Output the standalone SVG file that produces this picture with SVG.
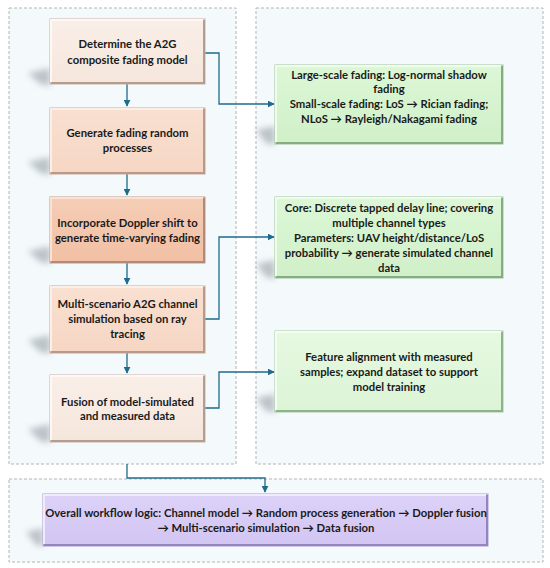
<svg xmlns="http://www.w3.org/2000/svg" width="550" height="568" viewBox="0 0 550 568">
<defs>
<style>
.panel{fill:#f4f9fc;stroke:#b4b4b4;stroke-width:1;stroke-dasharray:3,2}
.t{font-family:Lato,"Open Sans","Liberation Sans",sans-serif;font-weight:bold;font-size:11.3px;fill:#1a1a1a;text-anchor:middle}
.conn{fill:none;stroke:#1e6b8c;stroke-width:1.3}
.edge{fill:none;stroke-width:2}
.shadow{fill:#8e979e;opacity:0.55;filter:url(#blur)}
</style>
<filter id="blur" x="-50%" y="-50%" width="200%" height="200%"><feGaussianBlur stdDeviation="3"/></filter>
<marker id="arr" viewBox="0 0 10 10" refX="9" refY="5" markerWidth="7" markerHeight="7" markerUnits="userSpaceOnUse" orient="auto"><path d="M0,0 L10,5 L0,10 z" fill="#1e6b8c"/></marker>
<linearGradient id="gPeachL" x1="0" y1="0" x2="0" y2="1"><stop offset="0" stop-color="#f9efe8"/><stop offset="1" stop-color="#f5e6dc"/></linearGradient>
<linearGradient id="gPeach" x1="0" y1="0" x2="0" y2="1"><stop offset="0" stop-color="#f9e0d1"/><stop offset="1" stop-color="#f6d6c3"/></linearGradient>
<linearGradient id="gPeachD" x1="0" y1="0" x2="0" y2="1"><stop offset="0" stop-color="#f5cdb6"/><stop offset="1" stop-color="#f2c0a4"/></linearGradient>
<linearGradient id="gGreen" x1="0" y1="0" x2="0" y2="1"><stop offset="0" stop-color="#dcf7d6"/><stop offset="1" stop-color="#d0f0c9"/></linearGradient>
<linearGradient id="gGreenL" x1="0" y1="0" x2="0" y2="1"><stop offset="0" stop-color="#e6f9e1"/><stop offset="1" stop-color="#dcf4d6"/></linearGradient>
<linearGradient id="gPurple" x1="0" y1="0" x2="0" y2="1"><stop offset="0" stop-color="#ddd2f8"/><stop offset="1" stop-color="#d2c5f3"/></linearGradient>
</defs>

<g id="panels">
<rect class="panel" x="9" y="8" width="227" height="456"/>
<rect class="panel" x="256" y="8" width="287" height="456"/>
<rect class="panel" x="9" y="479" width="534" height="83"/>
</g>

<g id="shadows">
<polygon class="shadow" points="50,68 28,73 40,84 50,86"/>
<polygon class="shadow" points="50,157 28,162 40,173 50,175"/>
<polygon class="shadow" points="50,246 28,251 40,262 50,264"/>
<polygon class="shadow" points="50,335 28,340 40,352 50,354"/>
<polygon class="shadow" points="50,424 28,429 40,441 50,443"/>
<polygon class="shadow" points="275,126 256,130 266,143 275,145"/>
<polygon class="shadow" points="275,260 256,264 266,277 275,279"/>
<polygon class="shadow" points="275,394 256,398 266,411 275,413"/>
<polygon class="shadow" points="43,528 26,532 36,545 43,547"/>
</g>

<g id="connectors">
<line class="conn" x1="127" y1="84" x2="127" y2="106" marker-end="url(#arr)"/>
<line class="conn" x1="127" y1="174" x2="127" y2="195" marker-end="url(#arr)"/>
<line class="conn" x1="127" y1="263" x2="127" y2="284" marker-end="url(#arr)"/>
<line class="conn" x1="127" y1="353" x2="127" y2="373" marker-end="url(#arr)"/>
<polyline class="conn" points="205,53 219,53 219,104 274,104" marker-end="url(#arr)"/>
<polyline class="conn" points="205,319 219,319 219,237 274,237" marker-end="url(#arr)"/>
<polyline class="conn" points="205,408 219,408 219,372 274,372" marker-end="url(#arr)"/>
<polyline class="conn" points="127,464 127,478 265,478 265,492" marker-end="url(#arr)"/>
</g>

<g id="n1">
<rect x="50" y="19" width="155" height="65" fill="url(#gPeachL)" stroke="#c9b2a6"/>
<polyline class="edge" points="51,83 204,83 204,20" stroke="#b59c90"/>
<polyline class="edge" points="51,82 51,20 203,20" stroke="#fdf8f4" stroke-width="1.5"/>
<text class="t" x="127.5" y="48">Determine the A2G</text>
<text class="t" x="127.5" y="64">composite fading model</text>
</g>

<g id="n2">
<rect x="50" y="108" width="155" height="66" fill="url(#gPeach)" stroke="#c9a796"/>
<polyline class="edge" points="51,173 204,173 204,109" stroke="#b8998a"/>
<polyline class="edge" points="51,172 51,109 203,109" stroke="#fcefe7" stroke-width="1.5"/>
<text class="t" x="127.5" y="137">Generate fading random</text>
<text class="t" x="127.5" y="152">processes</text>
</g>

<g id="n3">
<rect x="50" y="197" width="155" height="66" fill="url(#gPeachD)" stroke="#c59a84"/>
<polyline class="edge" points="51,262 204,262 204,198" stroke="#b18b78"/>
<polyline class="edge" points="51,261 51,198 203,198" stroke="#f9e1d3" stroke-width="1.5"/>
<text class="t" x="127.5" y="227">Incorporate Doppler shift to</text>
<text class="t" x="127.5" y="242">generate time-varying fading</text>
</g>

<g id="n4">
<rect x="50" y="286" width="155" height="67" fill="url(#gPeach)" stroke="#c9a796"/>
<polyline class="edge" points="51,352 204,352 204,287" stroke="#b8998a"/>
<polyline class="edge" points="51,351 51,287 203,287" stroke="#fcefe7" stroke-width="1.5"/>
<text class="t" x="127.5" y="308">Multi-scenario A2G channel</text>
<text class="t" x="127.5" y="323">simulation based on ray</text>
<text class="t" x="127.5" y="338">tracing</text>
</g>

<g id="n5">
<rect x="50" y="375" width="155" height="67" fill="url(#gPeachL)" stroke="#c9b2a6"/>
<polyline class="edge" points="51,441 204,441 204,376" stroke="#b59c90"/>
<polyline class="edge" points="51,440 51,376 203,376" stroke="#fdf8f4" stroke-width="1.5"/>
<text class="t" x="127.5" y="406">Fusion of model-simulated</text>
<text class="t" x="127.5" y="420">and measured data</text>
</g>

<g id="g1">
<rect x="275" y="65" width="228" height="79" fill="url(#gGreen)" stroke="#9cc596"/>
<polyline class="edge" points="276,143 502,143 502,66" stroke="#86ad80"/>
<polyline class="edge" points="276,142 276,66 501,66" stroke="#effcec" stroke-width="1.5"/>
<text class="t" x="389" y="79">Large-scale fading: Log-normal shadow</text>
<text class="t" x="389" y="93">fading</text>
<text class="t" x="389" y="108">Small-scale fading: LoS → Rician fading;</text>
<text class="t" x="389" y="123">NLoS → Rayleigh/Nakagami fading</text>
</g>

<g id="g2">
<rect x="275" y="197" width="228" height="81" fill="url(#gGreen)" stroke="#9cc596"/>
<polyline class="edge" points="276,277 502,277 502,198" stroke="#86ad80"/>
<polyline class="edge" points="276,276 276,198 501,198" stroke="#effcec" stroke-width="1.5"/>
<text class="t" x="389" y="212">Core: Discrete tapped delay line; covering</text>
<text class="t" x="389" y="227">multiple channel types</text>
<text class="t" x="389" y="242">Parameters: UAV height/distance/LoS</text>
<text class="t" x="389" y="257">probability → generate simulated channel</text>
<text class="t" x="389" y="272">data</text>
</g>

<g id="g3">
<rect x="275" y="331" width="228" height="81" fill="url(#gGreenL)" stroke="#a6c9a0"/>
<polyline class="edge" points="276,411 502,411 502,332" stroke="#8fb389"/>
<polyline class="edge" points="276,410 276,332 501,332" stroke="#f3fdf0" stroke-width="1.5"/>
<text class="t" x="389" y="361">Feature alignment with measured</text>
<text class="t" x="389" y="376">samples; expand dataset to support</text>
<text class="t" x="389" y="391">model training</text>
</g>

<g id="p1">
<rect x="43" y="494" width="445" height="52" fill="url(#gPurple)" stroke="#a99bd3"/>
<polyline class="edge" points="44,545 487,545 487,495" stroke="#9485bf"/>
<polyline class="edge" points="44,544 44,495 486,495" stroke="#efeafd" stroke-width="1.5"/>
<text class="t" x="266" y="517">Overall workflow logic: Channel model → Random process generation → Doppler fusion</text>
<text class="t" x="266" y="532">→ Multi-scenario simulation → Data fusion</text>
</g>
</svg>
